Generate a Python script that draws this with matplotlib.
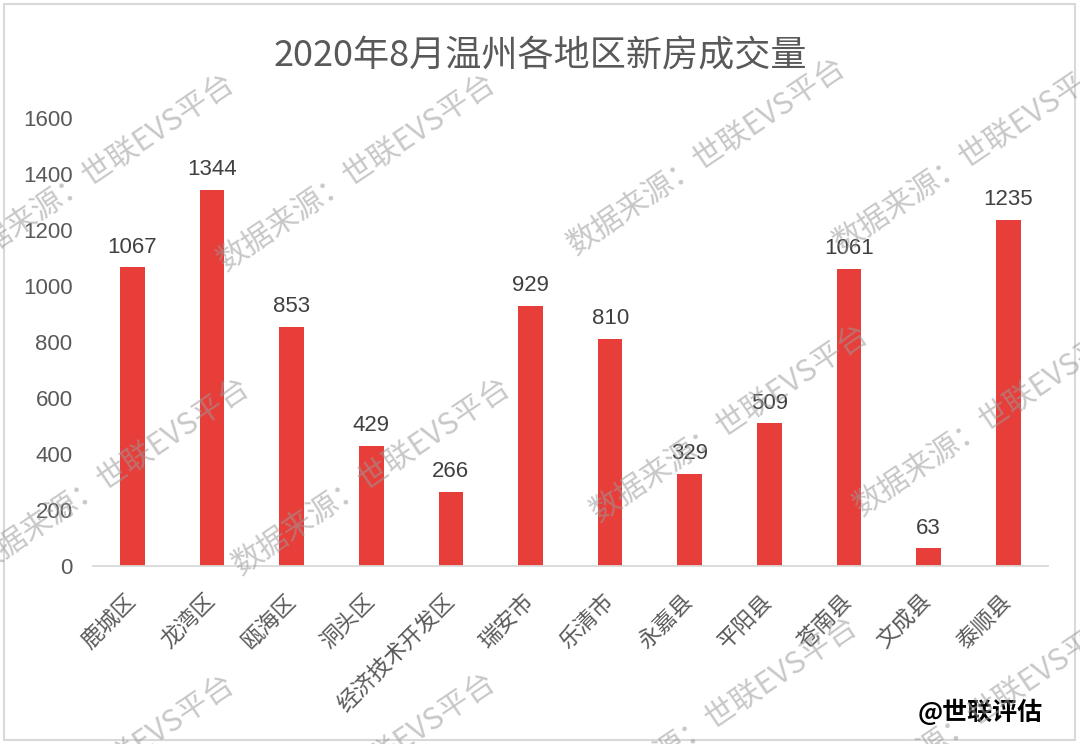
import matplotlib
matplotlib.use('Agg')
import matplotlib.pyplot as plt
from matplotlib.patches import Rectangle

plt.rcParams['font.family'] = ['Noto Sans CJK SC', 'DejaVu Sans']

categories = ['鹿城区', '龙湾区', '瓯海区', '洞头区', '经济技术开发区', '瑞安市',
              '乐清市', '永嘉县', '平阳县', '苍南县', '文成县', '泰顺县']
values = [1067, 1344, 853, 429, 266, 929, 810, 329, 509, 1061, 63, 1235]
yticks = [0, 200, 400, 600, 800, 1000, 1200, 1400, 1600]
title = '2020年8月温州各地区新房成交量'
watermark = '数据来源：世联EVS平台'
credit = '@世联评估'

W, H = 1080, 744
fig = plt.figure(figsize=(W / 100, H / 100), dpi=100)
fig.patch.set_facecolor('white')

# outer frame
fig.patches.append(Rectangle((4 / W, 4 / H), (1075 - 4) / W, (740 - 4) / H,
                             transform=fig.transFigure, fill=False,
                             edgecolor='#d9d9d9', linewidth=1.5))

ax = fig.add_axes([92.7 / W, 1 - 566 / H, (1048 - 92.7) / W, (566 - 118) / H])
ax.set_facecolor('none')
xpos = list(range(len(categories)))
ax.bar(xpos, values, width=0.31, color='#E83E3A', zorder=2)
ax.set_xlim(-0.5, len(categories) - 0.5)
ax.set_ylim(0, 1600)

ax.set_yticks(yticks)
ax.set_yticklabels([str(v) for v in yticks], fontfamily='Liberation Sans',
                   fontsize=16, color='#595959')
ax.tick_params(axis='y', length=0, pad=14.5)

ax.set_xticks(xpos)
ax.set_xticklabels(categories, rotation=45, ha='right', va='center',
                   rotation_mode='anchor', fontfamily='Noto Sans CJK SC',
                   fontsize=16, color='#595959')
ax.tick_params(axis='x', length=0, pad=23)

for s in ['top', 'right', 'left']:
    ax.spines[s].set_visible(False)
ax.spines['bottom'].set_color('#d9d9d9')
ax.spines['bottom'].set_linewidth(1.3)

for xi, v in zip(xpos, values):
    ax.annotate(str(v), (xi, v), xytext=(0, 7), textcoords='offset points',
                ha='center', va='bottom', fontfamily='Liberation Sans',
                fontsize=16, color='#404040', zorder=3)

fig.text(0.5, 1 - 57 / H, title, ha='center', va='center', fontsize=26,
         color='#595959', fontfamily='Noto Sans CJK SC', fontweight='light')

# watermark tiles (end point of each text, pixel coords)
wm_pos = [(232, 80), (493, 80), (843, 64), (1109, 62),
          (247, 384), (508, 384), (866, 331), (1129, 325),
          (232, 681), (493, 679), (855, 623), (1118, 620)]
for px, py in wm_pos:
    fig.text(px / W, 1 - py / H, watermark, rotation=34, rotation_mode='anchor',
             ha='right', va='center', fontsize=22, color='#9a9a9a', alpha=0.55,
             fontfamily='Noto Sans CJK SC', fontweight='light', zorder=10)

fig.text(1043 / W, 1 - 712 / H, credit, ha='right', va='center', fontsize=18,
         fontweight='bold', color='black', fontfamily='Noto Sans CJK SC')

fig.savefig('out.png', dpi=100)
